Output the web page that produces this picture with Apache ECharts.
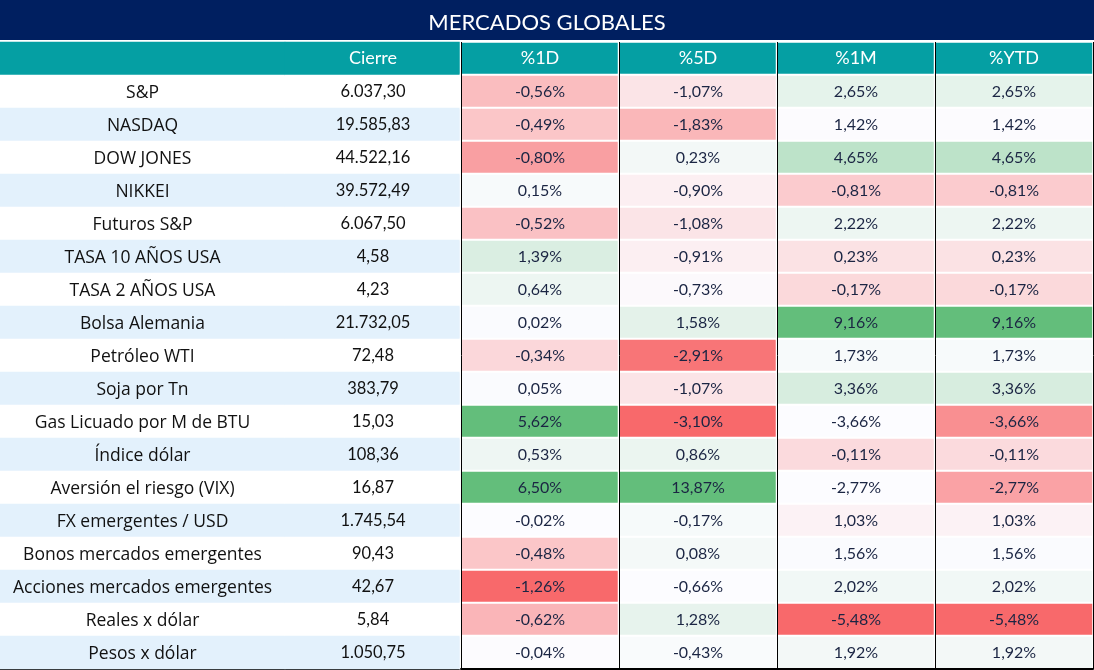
<!DOCTYPE html>
<html>
<head>
<meta charset="utf-8">
<script src="https://cdn.jsdelivr.net/npm/echarts@6/dist/echarts.min.js"></script>
<style>
html,body{margin:0;padding:0;background:#fff;}
#chart{width:1094px;height:670px;}
</style>
</head>
<body>
<div id="chart"></div>
<script>
// ---------- DATA ----------
const titleText = 'MERCADOS GLOBALES';
const headers = ['', 'Cierre', '%1D', '%5D', '%1M', '%YTD'];
const labels = ['S&P','NASDAQ','DOW JONES','NIKKEI','Futuros S&P','TASA 10 AÑOS USA','TASA 2 AÑOS USA','Bolsa Alemania','Petróleo WTI','Soja por Tn','Gas Licuado por M de BTU','Índice dólar','Aversión el riesgo (VIX)','FX emergentes / USD','Bonos mercados emergentes','Acciones mercados emergentes','Reales x dólar','Pesos x dólar'];
const cierre = [6037.30,19585.83,44522.16,39572.49,6067.50,4.58,4.23,21732.05,72.48,383.79,15.03,108.36,16.87,1745.54,90.43,42.67,5.84,1050.75];
const pct1D  = [-0.56,-0.49,-0.80,0.15,-0.52,1.39,0.64,0.02,-0.34,0.05,5.62,0.53,6.50,-0.02,-0.48,-1.26,-0.62,-0.04];
const pct5D  = [-1.07,-1.83,0.23,-0.90,-1.08,-0.91,-0.73,1.58,-2.91,-1.07,-3.10,0.86,13.87,-0.17,0.08,-0.66,1.28,-0.43];
const pct1M  = [2.65,1.42,4.65,-0.81,2.22,0.23,-0.17,9.16,1.73,3.36,-3.66,-0.11,-2.77,1.03,1.56,2.02,-5.48,1.92];
const pctYTD = [2.65,1.42,4.65,-0.81,2.22,0.23,-0.17,9.16,1.73,3.36,-3.66,-0.11,-2.77,1.03,1.56,2.02,-5.48,1.92];
// shading: -1 = full red, 0 = white, +1 = full green
const shade1D  = [-0.43,-0.37,-0.63,0.03,-0.40,0.22,0.10,0.01,-0.25,0.01,1,0.09,1,0,-0.37,-1,-0.48,-0.01];
const shade5D  = [-0.16,-0.47,0.06,-0.09,-0.16,-0.09,-0.02,0.16,-0.92,-0.16,-1,0.11,1,0.04,0.05,0,0.14,0.02];
const shade1M  = [0.15,-0.01,0.41,-0.33,0.10,-0.18,-0.24,1,0.03,0.24,0,-0.23,0,-0.07,0.01,0.07,-1,0.06];
const shadeYTD = [0.15,-0.01,0.41,-0.33,0.10,-0.18,-0.24,1,0.03,0.24,-0.74,-0.23,-0.61,-0.07,0.01,0.07,-1,0.06];

// ---------- STYLE ----------
const NAVY = '#001F60', TEAL = '#059FA3', BLUE = '#E3F1FC';
const RED = [248,105,107], WHITE = [252,252,255], GREEN = [99,190,123];
const FONT = 'Lato';
function mix(a,b,t){return 'rgb('+a.map((v,i)=>Math.round(v+(b[i]-v)*t)).join(',')+')';}
function shadeColor(s){return s<0?mix(WHITE,RED,-s):mix(WHITE,GREEN,s);}
function fmt(v,dec){
  const neg=v<0; const s=Math.abs(v).toFixed(dec); let [i,d]=s.split('.');
  i=i.replace(/\B(?=(\d{3})+(?!\d))/g,'.');
  return (neg?'-':'')+i+(d?','+d:'');
}
const nRows = labels.length + 1;
const yCats = Array.from({length:nRows},(_,i)=>String(i));
const TOP = 42, H = 627;

const headerItem = (x, text, bw) => ({
  value:[x,0,0],
  itemStyle:{color:TEAL,borderColor:'#fff',borderWidth:bw},
  label:{formatter:text,color:'#fff',fontSize:18}
});

// grid0: labels
const d0 = [headerItem(0,'',0)];
labels.forEach((l,i)=>d0.push({value:[0,i+1,0],itemStyle:{color:i%2?BLUE:'#fff',borderWidth:0},label:{formatter:l,color:'#111',fontSize:17.5,fontFamily:'Open Sans',offset:[0,1.5]}}));
// grid1: cierre
const d1 = [headerItem(0,'Cierre',0)];
cierre.forEach((v,i)=>d1.push({value:[0,i+1,0],itemStyle:{color:i%2?BLUE:'#fff',borderWidth:0},label:{formatter:fmt(v,2),color:'#111',fontSize:16.5}}));
// grid2: percents
const pcts = [pct1D,pct5D,pct1M,pctYTD];
const shades = [shade1D,shade5D,shade1M,shadeYTD];
const d2 = [];
headers.slice(2).forEach((h,c)=>d2.push(headerItem(c,h,2)));
pcts.forEach((arr,c)=>arr.forEach((v,i)=>d2.push({value:[c,i+1,0],itemStyle:{color:shadeColor(shades[c][i])},label:{formatter:fmt(v,2)+'%',color:'#1B2543',fontSize:16}})));

function gridAxes(idx,left,width,nCols,lines){
  return {
    grid:{left:left,top:TOP,width:width,height:H},
    x:{type:'category',gridIndex:idx,data:Array.from({length:nCols},(_,i)=>String(i)),position:'bottom',z:lines?5:0,
       axisLine:{show:true,lineStyle:{color:'#000',width:2}},axisTick:{show:false},axisLabel:{show:false},
       splitLine:{show:lines,lineStyle:{color:'#000',width:1}}},
    y:{type:'category',gridIndex:idx,data:yCats,inverse:true,
       axisLine:{show:idx===0,lineStyle:{color:'#cfcfcf'}},axisTick:{show:false},axisLabel:{show:false},splitLine:{show:false}}
  };
}
const g0 = gridAxes(0,0,285,1,false), g1 = gridAxes(1,285,176,1,false), g2 = gridAxes(2,461,632,4,true);
const base = {type:'heatmap',itemStyle:{borderColor:'#fff',borderWidth:2},label:{show:true,fontFamily:FONT},emphasis:{disabled:true}};

const chart = echarts.init(document.getElementById('chart'),null,{renderer:'canvas'});
chart.setOption({
  animation:false,
  textStyle:{fontFamily:FONT},
  title:{text:titleText,left:'center',top:7,textStyle:{color:'#fff',fontSize:22,fontWeight:'normal',fontFamily:FONT},z:10},
  graphic:[
    {type:'rect',z:1,shape:{x:0,y:0,width:1094,height:40},style:{fill:NAVY}},
    {type:'rect',z:1,shape:{x:0,y:40,width:1094,height:2},style:{fill:'#fff'}}
  ],
  grid:[g0.grid,g1.grid,g2.grid],
  xAxis:[g0.x,g1.x,g2.x],
  yAxis:[g0.y,g1.y,g2.y],
  series:[
    Object.assign({},base,{xAxisIndex:0,yAxisIndex:0,data:d0}),
    Object.assign({},base,{xAxisIndex:1,yAxisIndex:1,data:d1}),
    Object.assign({},base,{xAxisIndex:2,yAxisIndex:2,data:d2})
  ]
});
</script>
</body>
</html>
